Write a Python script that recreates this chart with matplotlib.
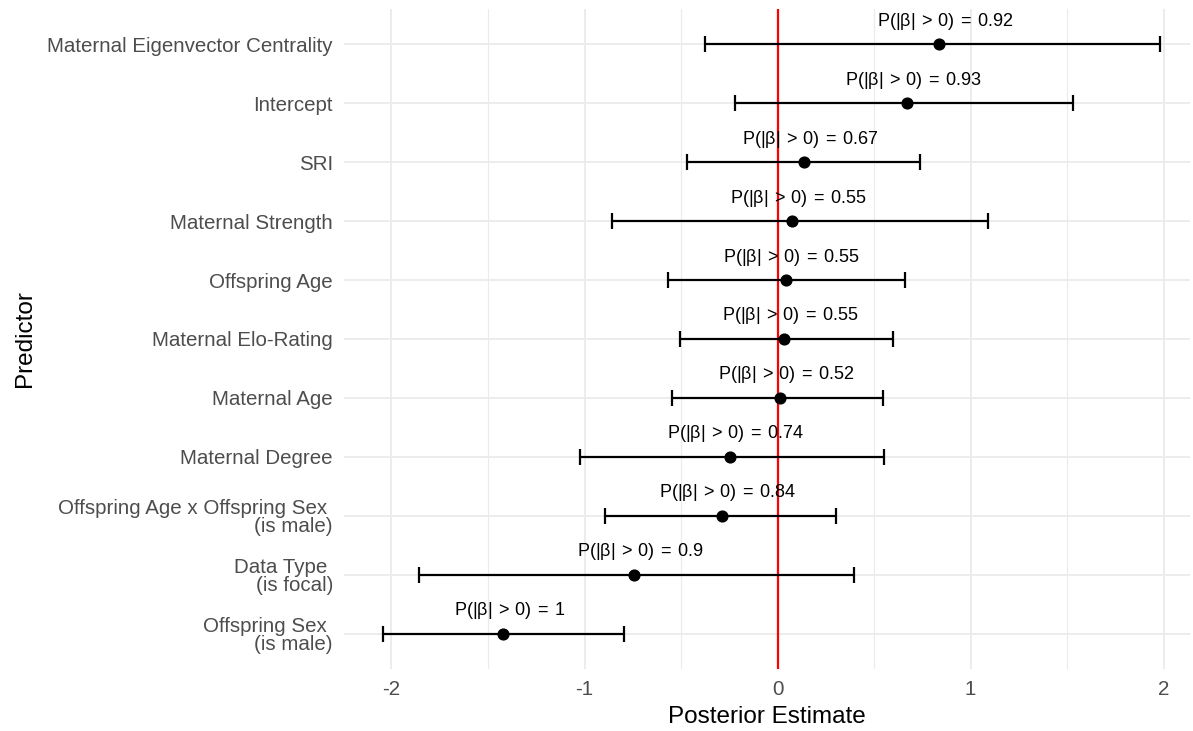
import numpy as np
import matplotlib.pyplot as plt

# Posterior estimates with 95% intervals (top row first)
predictors = [
    "Maternal Eigenvector Centrality",
    "Intercept",
    "SRI",
    "Maternal Strength",
    "Offspring Age",
    "Maternal Elo-Rating",
    "Maternal Age",
    "Maternal Degree",
    "Offspring Age x Offspring Sex \n(is male)",
    "Data Type \n(is focal)",
    "Offspring Sex \n(is male)",
]
estimate = [0.835, 0.672, 0.135, 0.076, 0.042, 0.034, 0.014, -0.248, -0.290, -0.743, -1.420]
lower = [-0.377, -0.222, -0.470, -0.855, -0.568, -0.506, -0.549, -1.021, -0.892, -1.857, -2.045]
upper = [1.983, 1.533, 0.740, 1.091, 0.661, 0.596, 0.549, 0.554, 0.301, 0.397, -0.793]
prob = ["0.92", "0.93", "0.67", "0.55", "0.55", "0.55", "0.52", "0.74", "0.84", "0.9", "1"]

plt.rcParams['font.family'] = ['Liberation Sans', 'DejaVu Sans']
plt.rcParams['mathtext.fontset'] = 'custom'
plt.rcParams['mathtext.rm'] = 'Liberation Sans'
plt.rcParams['mathtext.it'] = 'Liberation Sans'
plt.rcParams['mathtext.sf'] = 'Liberation Sans'

fig = plt.figure(figsize=(11.93, 7.31), dpi=100)
ax = fig.add_axes([344 / 1193, 1 - 669 / 731, 846 / 1193, 660 / 731])

est = np.array(estimate)
lo = np.array(lower)
hi = np.array(upper)
y = np.arange(len(predictors))[::-1]

# grid
for g in [-2, -1, 0, 1, 2]:
    ax.axvline(g, color='#EBEBEB', lw=1.3, zorder=0)
for g in [-1.5, -0.5, 0.5, 1.5]:
    ax.axvline(g, color='#EBEBEB', lw=0.8, zorder=0)
for yy in y:
    ax.axhline(yy, color='#EBEBEB', lw=1.3, zorder=0)

ax.axvline(0, color='#FF0000', lw=1.6, zorder=1)

ax.errorbar(est, y, xerr=[est - lo, hi - est], fmt='none', ecolor='black',
            elinewidth=1.6, capsize=6, capthick=1.6, zorder=2)
ax.scatter(est, y, s=60, color='black', zorder=3)

for xx, yy, p in zip(est, y, prob):
    ax.annotate(r'$\mathrm{P}\left(|\beta|\:>\:0\right)\:=\:' + p + '$', (xx, yy),
                xytext=(6, 23), textcoords='offset pixels',
                ha='center', va='center', fontsize=13, color='black')

ax.set_xlim(-2.246, 2.137)
ax.set_ylim(-0.6, len(predictors) - 0.4)
ax.set_xticks([-2, -1, 0, 1, 2])
ax.set_xticklabels(['-2', '-1', '0', '1', '2'])
ax.set_yticks(y)
ax.set_yticklabels(predictors, linespacing=0.95)
ax.tick_params(length=0, labelsize=14.8, labelcolor='#4D4D4D', pad=8)
for s in ax.spines.values():
    s.set_visible(False)

ax.set_xlabel('Posterior Estimate', fontsize=17.5, labelpad=5)
ax.set_ylabel('Predictor', fontsize=17.5, labelpad=8)

fig.savefig('out.png', dpi=100)
